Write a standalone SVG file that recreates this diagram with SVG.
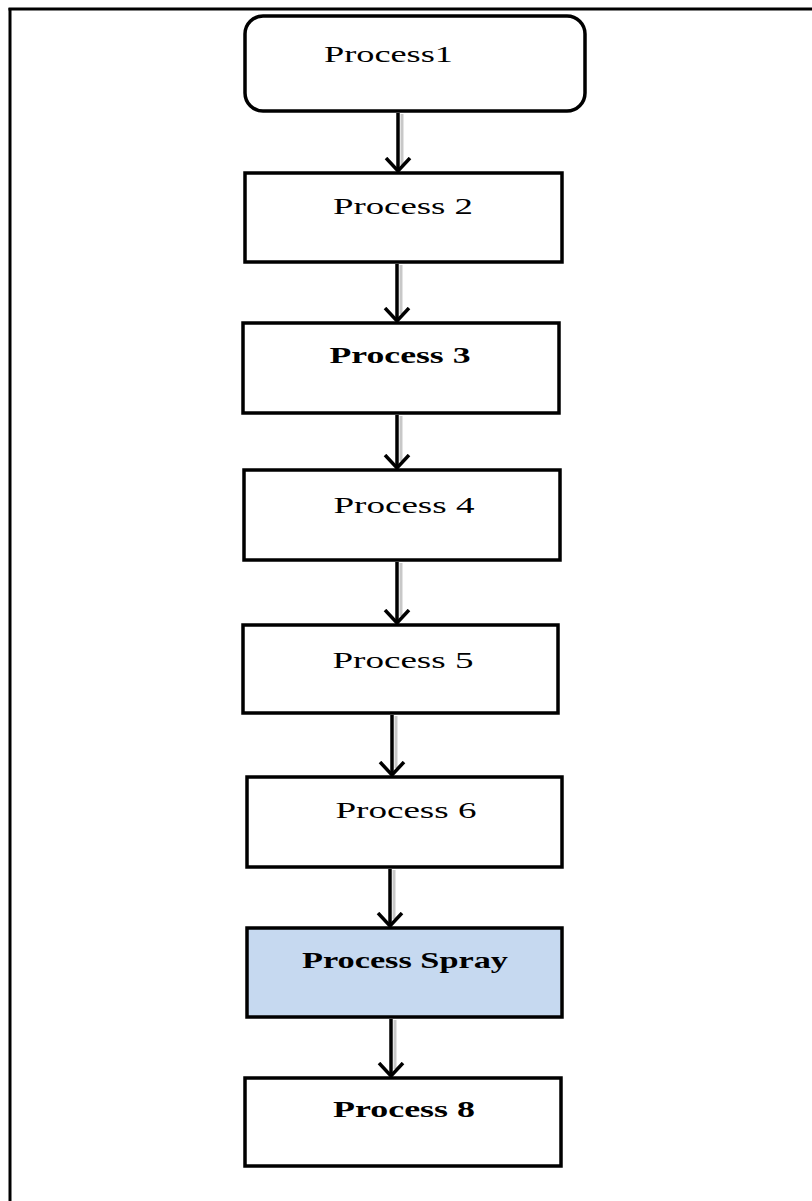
<svg xmlns="http://www.w3.org/2000/svg" width="812" height="1201" viewBox="0 0 812 1201">
<style>
.box{fill:#fff;stroke:#000;stroke-width:3.5}
.spray{fill:#c6d9f0;stroke:#000;stroke-width:3.5}
.lbl{font-family:"Liberation Serif","Times New Roman",serif;font-size:24px;fill:#000;text-anchor:middle}
.b{font-weight:bold}
.shaft{stroke:#000;stroke-width:3.5;fill:none}
.shadow{stroke:#c8c8c8;stroke-width:3;fill:none}
</style>
<defs>
<marker id="arr" markerUnits="userSpaceOnUse" markerWidth="30" markerHeight="30" refX="14" refY="15" orient="auto">
<path d="M1,3 L14,15 L1,27" fill="none" stroke="#000" stroke-width="3.5"/>
</marker>
</defs>
<rect width="812" height="1201" fill="#fff"/>
<g id="frame">
<line x1="8.5" y1="9" x2="812" y2="9" stroke="#000" stroke-width="3"/>
<line x1="10" y1="8" x2="10" y2="1201" stroke="#000" stroke-width="3"/>
</g>
<g id="connectors">
<line class="shadow" x1="402" y1="114" x2="402" y2="165"/>
<line class="shaft" x1="398" y1="113" x2="398" y2="171" marker-end="url(#arr)"/>
<line class="shadow" x1="401" y1="265" x2="401" y2="314"/>
<line class="shaft" x1="397" y1="264" x2="397" y2="321" marker-end="url(#arr)"/>
<line class="shadow" x1="401" y1="416" x2="401" y2="461"/>
<line class="shaft" x1="397" y1="415" x2="397" y2="468" marker-end="url(#arr)"/>
<line class="shadow" x1="401" y1="563" x2="401" y2="616"/>
<line class="shaft" x1="397" y1="562" x2="397" y2="623" marker-end="url(#arr)"/>
<line class="shadow" x1="396" y1="716" x2="396" y2="768"/>
<line class="shaft" x1="392" y1="715" x2="392" y2="775" marker-end="url(#arr)"/>
<line class="shadow" x1="394" y1="870" x2="394" y2="919"/>
<line class="shaft" x1="390" y1="869" x2="390" y2="926" marker-end="url(#arr)"/>
<line class="shadow" x1="395" y1="1020" x2="395" y2="1069"/>
<line class="shaft" x1="391" y1="1019" x2="391" y2="1076" marker-end="url(#arr)"/>
</g>
<g id="n1">
<rect class="box" x="245" y="16" width="340" height="95" rx="18"/>
<text class="lbl" x="388.5" y="62" textLength="129" lengthAdjust="spacingAndGlyphs">Process1</text>
</g>
<g id="n2">
<rect class="box" x="245" y="173" width="317" height="89"/>
<text class="lbl" x="403" y="214" textLength="140" lengthAdjust="spacingAndGlyphs">Process 2</text>
</g>
<g id="n3">
<rect class="box" x="243" y="323" width="316" height="90"/>
<text class="lbl b" x="400" y="363" textLength="141" lengthAdjust="spacingAndGlyphs">Process 3</text>
</g>
<g id="n4">
<rect class="box" x="244" y="470" width="316" height="90"/>
<text class="lbl" x="404" y="513" textLength="141" lengthAdjust="spacingAndGlyphs">Process 4</text>
</g>
<g id="n5">
<rect class="box" x="243" y="625" width="315" height="88"/>
<text class="lbl" x="403" y="668" textLength="141" lengthAdjust="spacingAndGlyphs">Process 5</text>
</g>
<g id="n6">
<rect class="box" x="247" y="777" width="315" height="90"/>
<text class="lbl" x="406" y="818" textLength="141" lengthAdjust="spacingAndGlyphs">Process 6</text>
</g>
<g id="n7">
<rect class="spray" x="247" y="928" width="315" height="89"/>
<text class="lbl b" x="405" y="968" textLength="206" lengthAdjust="spacingAndGlyphs">Process Spray</text>
</g>
<g id="n8">
<rect class="box" x="245" y="1078" width="316" height="88"/>
<text class="lbl b" x="404" y="1117" textLength="142" lengthAdjust="spacingAndGlyphs">Process 8</text>
</g>
</svg>
